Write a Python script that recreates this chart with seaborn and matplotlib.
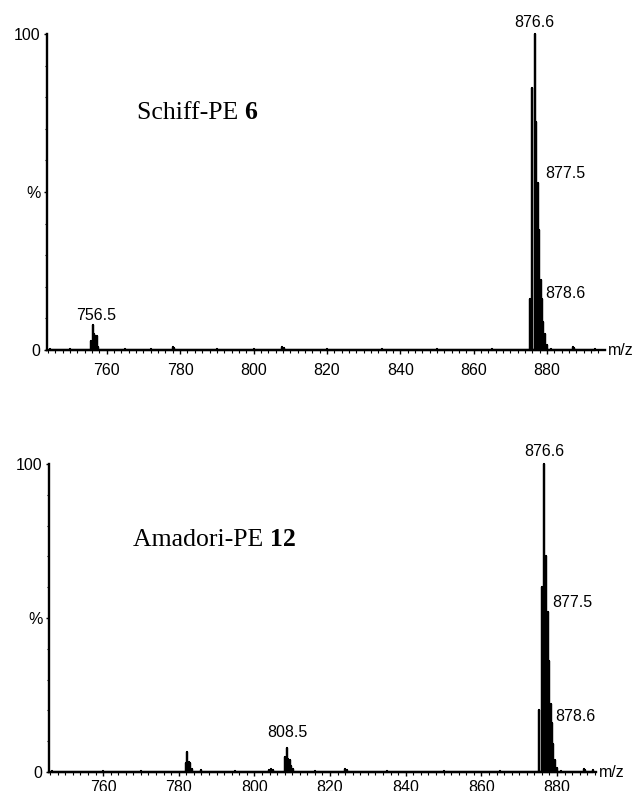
import matplotlib
matplotlib.use("Agg")
import matplotlib.pyplot as plt
from matplotlib.ticker import MultipleLocator
import seaborn as sns
import pandas as pd

# Schiff-PE 6 : m/z and relative intensity (%)
schiff_mz = [744.5, 750.0, 755.8, 756.2, 756.5, 756.8, 757.1, 757.4, 757.7, 765.0,
             772.0, 778.0, 778.4, 790.0, 800.0, 807.8, 808.3, 820.0, 835.0, 850.0,
             865.0, 875.3, 875.9, 876.6, 877.0, 877.5, 877.9, 878.3, 878.6, 879.0,
             879.5, 880.1, 881.0, 887.0, 887.4, 893.0]
schiff_pct = [0.3, 0.4, 3.0, 7.8, 5.0, 4.5, 4.5, 4.3, 1.0, 0.4,
              0.3, 0.8, 0.5, 0.3, 0.4, 1.0, 0.6, 0.3, 0.3, 0.3,
              0.3, 16.0, 83.0, 100.0, 72.0, 53.0, 38.0, 22.0, 16.0, 9.0,
              5.0, 1.5, 0.4, 0.8, 0.5, 0.3]

# Amadori-PE 12
amadori_mz = [746.5, 760.0, 770.0, 781.8, 782.2, 782.6, 783.0, 783.4, 786.0, 795.0,
              803.8, 804.5, 805.0, 808.2, 808.5, 808.9, 809.3, 809.7, 810.1, 816.0,
              824.0, 824.4, 835.0, 850.0, 865.0, 875.3, 876.0, 876.6, 877.0, 877.5,
              877.9, 878.3, 878.6, 879.0, 879.4, 880.0, 881.0, 887.0, 887.5, 889.5]
amadori_pct = [0.3, 0.3, 0.3, 3.0, 6.6, 3.2, 3.0, 1.0, 0.6, 0.3,
               0.6, 0.9, 0.6, 5.0, 7.9, 4.2, 3.8, 2.0, 1.0, 0.3,
               1.0, 0.6, 0.4, 0.4, 0.4, 20.0, 60.0, 100.0, 70.0, 52.0,
               36.0, 22.0, 16.0, 9.0, 4.0, 1.2, 0.4, 1.0, 0.6, 0.5]

schiff_labels = ["756.5", "876.6", "877.5", "878.6"]
amadori_labels = ["808.5", "876.6", "877.5", "878.6"]

x_ticks = [760, 780, 800, 820, 840, 860, 880]
y_ticks = [0, 50, 100]
y_ticklabels = ["0", "%", "100"]


def stick_frame(mz, pct):
    # each centroid becomes a vertical stick back down to the baseline
    rows = []
    for m, p in zip(mz, pct):
        rows += [(m, 0.0), (m, p), (m, 0.0)]
    return pd.DataFrame(rows, columns=["mz", "pct"])


def draw_panel(ax, mz, pct, xlim, name, num, name_pos, labels, label_pos, xpad):
    df = stick_frame(mz, pct)
    sns.lineplot(data=df, x="mz", y="pct", ax=ax, sort=False, estimator=None,
                 color="black", lw=1.6, clip_on=False)
    ax.set_xlim(*xlim)
    ax.set_ylim(0, 100)
    ax.set_xlabel("")
    ax.set_ylabel("")

    for side in ["top", "right"]:
        ax.spines[side].set_visible(False)
    for side in ["left", "bottom"]:
        ax.spines[side].set_linewidth(1.7)
        ax.spines[side].set_color("black")

    ax.set_xticks(x_ticks)
    ax.xaxis.set_minor_locator(MultipleLocator(2))
    ax.set_yticks(y_ticks)
    ax.set_yticklabels(y_ticklabels)
    ax.yaxis.set_minor_locator(MultipleLocator(10))
    ax.tick_params(axis="both", which="both", bottom=True, left=True,
                   color="black", labelcolor="black")
    ax.tick_params(axis="x", which="major", direction="out", length=3, width=1,
                   pad=xpad, labelsize=11.5)
    ax.tick_params(axis="x", which="minor", direction="out", length=1.8, width=0.8)
    ax.tick_params(axis="y", which="major", direction="out", length=2.5, width=1,
                   pad=2, labelsize=11.5)
    ax.tick_params(axis="y", which="minor", direction="out", length=1.2, width=0.8)

    t = ax.text(name_pos[0], name_pos[1], name + " ", transform=ax.transAxes,
                family="Liberation Serif", fontsize=18.5, va="baseline", ha="left",
                color="black")
    ax.annotate(num, xy=(1, 0), xycoords=t, va="bottom", ha="left",
                family="Liberation Serif", fontsize=18.5, fontweight="bold",
                color="black")

    for lab, (x, y, ha) in zip(labels, label_pos):
        ax.text(x, y, lab, fontsize=11.5, ha=ha, va="center", clip_on=False,
                color="black")

    ax.text(1.005, 0.0, "m/z", transform=ax.transAxes, fontsize=11.5,
            ha="left", va="center", color="black")


sns.set_theme(style="white")
plt.rcParams["font.family"] = ["Liberation Sans", "DejaVu Sans"]
plt.rcParams["text.color"] = "black"

fig = plt.figure(figsize=(6.41, 7.91), dpi=100)
ax1 = fig.add_axes([0.0733, 0.5575, 0.8705, 0.3995])
ax2 = fig.add_axes([0.0764, 0.0240, 0.8534, 0.3894])

draw_panel(ax1, schiff_mz, schiff_pct, (743.7, 895.8), "Schiff-PE", "6",
           (0.161, 0.731), schiff_labels,
           [(757.0, 11.0, "center"), (876.6, 103.8, "center"),
            (879.6, 56.0, "left"), (879.6, 18.0, "left")], 6)
draw_panel(ax2, amadori_mz, amadori_pct, (745.7, 890.3), "Amadori-PE", "12",
           (0.154, 0.734), amadori_labels,
           [(808.8, 12.7, "center"), (876.6, 103.9, "center"),
            (878.7, 55.0, "left"), (879.6, 18.0, "left")], 3)

fig.savefig("out.png", dpi=100)
